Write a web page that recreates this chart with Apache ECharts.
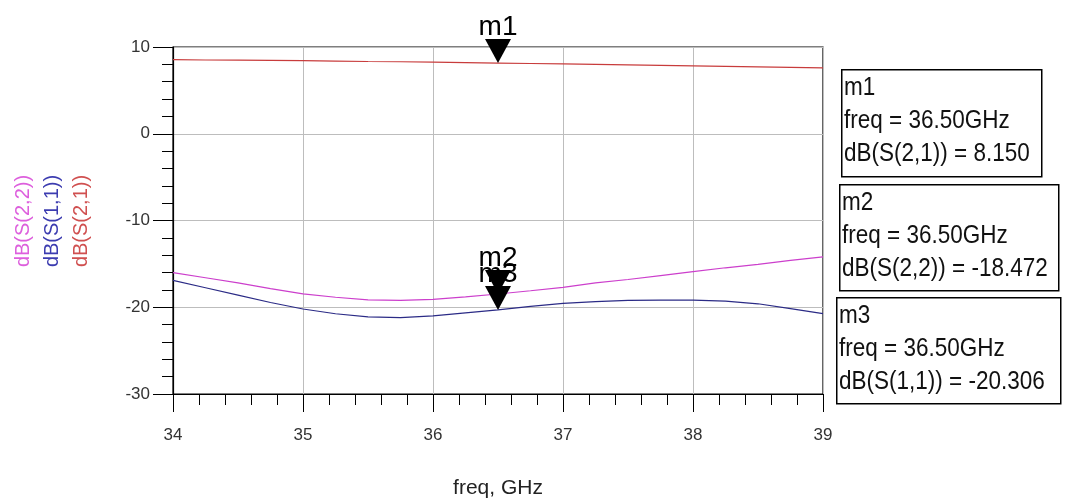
<!DOCTYPE html>
<html>
<head>
<meta charset="utf-8">
<script src="https://cdn.jsdelivr.net/npm/echarts@6/dist/echarts.min.js"></script>
<style>
  html, body { margin: 0; padding: 0; background: #fff; }
  #chart { width: 1065px; height: 504px; }
</style>
</head>
<body>
<div id="chart"></div>
<script>
// frequency points, GHz
var freq = [34, 34.25, 34.5, 34.75, 35, 35.25, 35.5, 35.75, 36, 36.25, 36.5,
            36.75, 37, 37.25, 37.5, 37.75, 38, 38.25, 38.5, 38.75, 39];
// dB(S(2,1))
var s21 = [8.55, 8.5, 8.48, 8.45, 8.42, 8.38, 8.33, 8.3, 8.25, 8.2, 8.15,
           8.1, 8.05, 8.0, 7.95, 7.88, 7.82, 7.76, 7.7, 7.65, 7.6];
// dB(S(2,2))
var s22 = [-16.0, -16.6, -17.2, -17.85, -18.45, -18.85, -19.15, -19.2, -19.1, -18.8, -18.472,
           -18.1, -17.7, -17.2, -16.8, -16.35, -15.9, -15.45, -15.05, -14.6, -14.2];
// dB(S(1,1))
var s11 = [-16.9, -17.75, -18.6, -19.45, -20.2, -20.75, -21.1, -21.2, -21.0, -20.65, -20.306,
           -19.9, -19.55, -19.35, -19.2, -19.18, -19.18, -19.3, -19.6, -20.15, -20.74];

var markerNames = ['m1', 'm2', 'm3'];
var markerFreq = [36.5, 36.5, 36.5];
var markerTrace = ['dB(S(2,1))', 'dB(S(2,2))', 'dB(S(1,1))'];
var markerVals = [8.150, -18.472, -20.306];

var xTicks = [34, 35, 36, 37, 38, 39];
var yTicks = [-30, -20, -10, 0, 10];

var FONT = "'Liberation Sans', Arial, sans-serif";
var RED = '#c83c3c', PINK = '#cc3fcc', BLUE = '#2b2b86';

function pairs(ys) {
  return freq.map(function (f, i) { return [f, ys[i]]; });
}

var chart = echarts.init(document.getElementById('chart'));

var tri = 'path://M0,0 L26,0 L13,24 Z';

// marker readout boxes on the right
var boxes = [
  { x: 841, y: 69, w: 200, h: 107 },
  { x: 839, y: 184, w: 219, h: 106 },
  { x: 836, y: 297, w: 224, h: 106 }
];
var graphics = [];
boxes.forEach(function (b, i) {
  graphics.push({
    type: 'rect',
    left: b.x, top: b.y,
    shape: { width: b.w, height: b.h },
    style: { fill: '#fff', stroke: '#000', lineWidth: 1.5 }
  });
  graphics.push({
    type: 'text',
    x: b.x + 3, y: b.y + 3,
    scaleX: 0.9,
    style: {
      text: markerNames[i] + '\nfreq = ' + markerFreq[i].toFixed(2) + 'GHz\n' +
            markerTrace[i] + ' = ' + markerVals[i].toFixed(3),
      font: '25px ' + FONT,
      lineHeight: 33,
      fill: '#111'
    }
  });
});

// stacked y axis titles
var yNames = [
  { t: 'dB(S(2,2))', c: '#dd5fdd', x: 23 },
  { t: 'dB(S(1,1))', c: '#3c3cb0', x: 52 },
  { t: 'dB(S(2,1))', c: '#d05050', x: 81 }
];
yNames.forEach(function (n) {
  graphics.push({
    type: 'text',
    x: n.x, y: 221,
    rotation: Math.PI / 2,
    style: {
      text: n.t, font: '20px ' + FONT, fill: n.c,
      align: 'center', verticalAlign: 'middle'
    }
  });
});

chart.setOption({
  backgroundColor: '#fff',
  animation: false,
  grid: {
    left: 173, right: 242, top: 47, bottom: 107,
    show: true, borderColor: '#000', borderWidth: 1.2,
    backgroundColor: 'transparent'
  },
  xAxis: {
    type: 'value',
    min: xTicks[0], max: xTicks[xTicks.length - 1], interval: 1,
    name: 'freq, GHz',
    nameLocation: 'middle',
    nameGap: 84,
    nameTextStyle: { fontFamily: FONT, fontSize: 21, color: '#222' },
    axisLine: { onZero: false, lineStyle: { color: '#000', width: 1.2 } },
    axisTick: { length: 18, lineStyle: { color: '#000' } },
    minorTick: { show: true, splitNumber: 5, length: 11, lineStyle: { color: '#000' } },
    axisLabel: { fontFamily: FONT, fontSize: 17, color: '#333', margin: 33 },
    splitLine: { show: true, lineStyle: { color: '#bdbdbd' } }
  },
  yAxis: {
    type: 'value',
    min: yTicks[0], max: yTicks[yTicks.length - 1], interval: 10,
    axisLine: { show: true, onZero: false, lineStyle: { color: '#000', width: 1.2 } },
    axisTick: { show: true, length: 20, lineStyle: { color: '#000' } },
    minorTick: { show: true, splitNumber: 5, length: 11, lineStyle: { color: '#000' } },
    axisLabel: { fontFamily: FONT, fontSize: 17, color: '#333', margin: 23 },
    splitLine: { show: true, lineStyle: { color: '#bdbdbd' } }
  },
  series: [
    { name: 'dB(S(2,1))', type: 'line', data: pairs(s21), showSymbol: false,
      lineStyle: { color: RED, width: 1.2 }, z: 3 },
    { name: 'dB(S(2,2))', type: 'line', data: pairs(s22), showSymbol: false,
      lineStyle: { color: PINK, width: 1.2 }, z: 3 },
    { name: 'dB(S(1,1))', type: 'line', data: pairs(s11), showSymbol: false,
      lineStyle: { color: BLUE, width: 1.2 }, z: 3 },
    {
      name: 'markers', type: 'scatter', z: 5,
      symbol: tri, symbolSize: [26, 24], symbolOffset: [0, -12],
      itemStyle: { color: '#000', opacity: 1 },
      label: {
        show: true, position: 'top', distance: -2,
        fontFamily: FONT, fontSize: 28, color: '#000',
        formatter: function (p) { return markerNames[p.dataIndex]; }
      },
      data: markerFreq.map(function (f, i) { return [f, markerVals[i]]; })
    }
  ],
  graphic: graphics
});
</script>
</body>
</html>
